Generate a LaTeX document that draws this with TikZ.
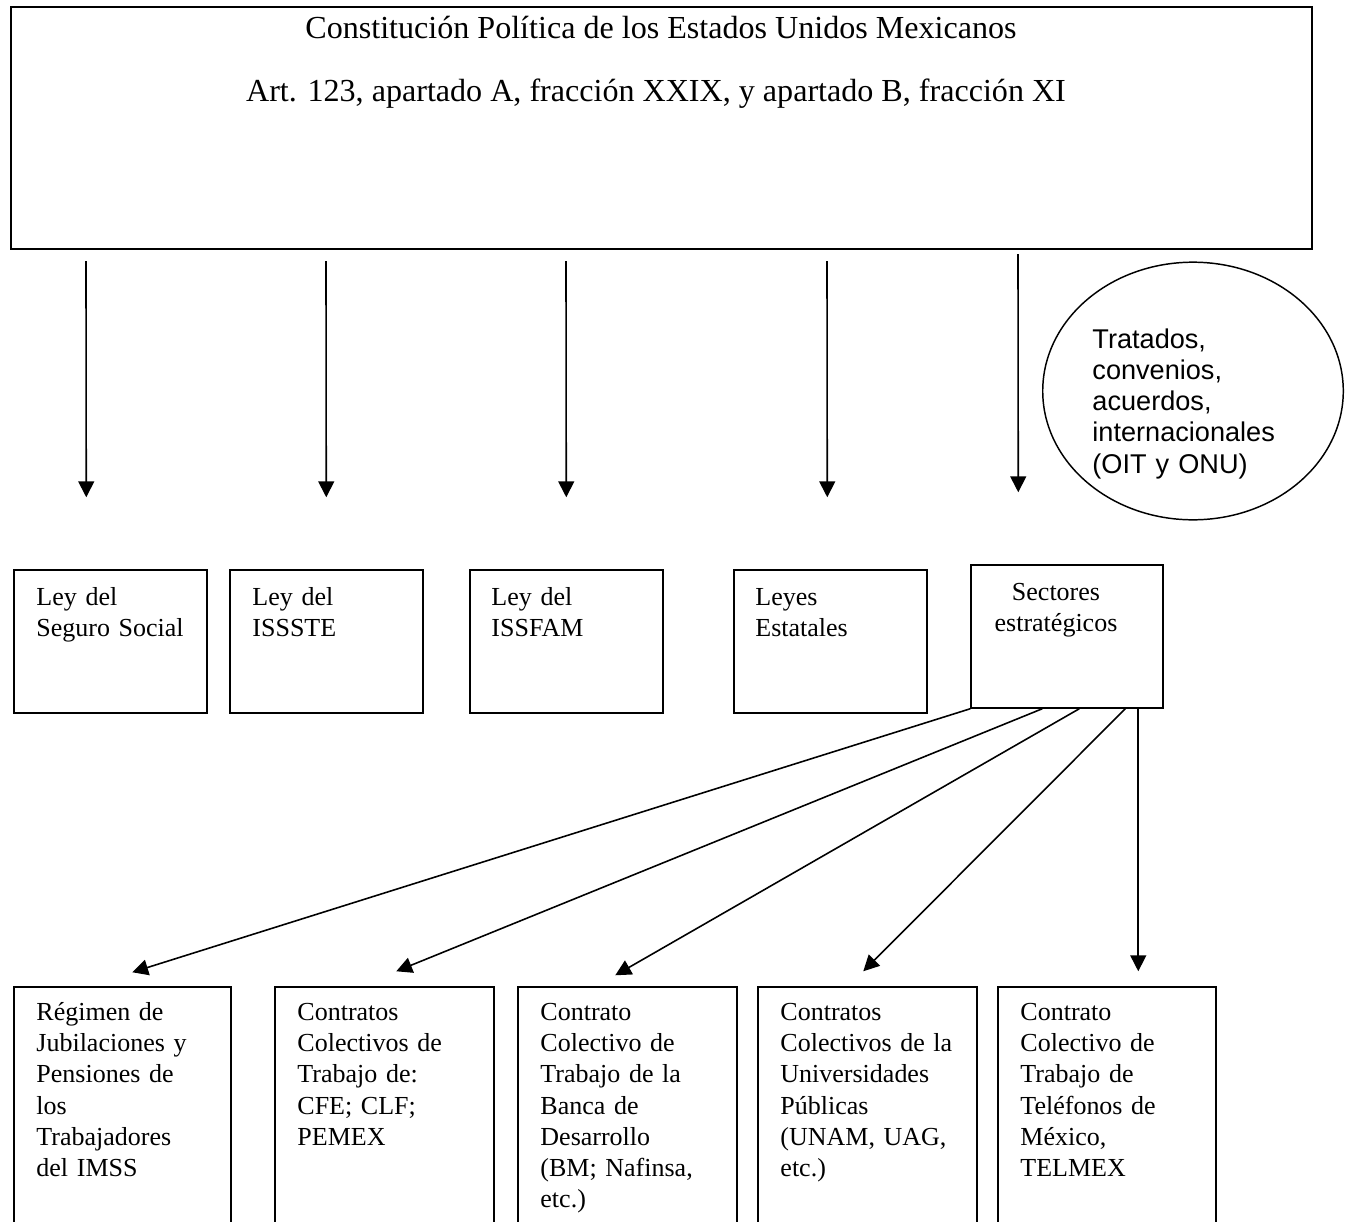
\documentclass[tikz,border=0pt]{standalone}
\usepackage{fontspec}
\setmainfont{Liberation Serif}
\newfontfamily\arialf{Liberation Sans}
\usetikzlibrary{arrows.meta,shapes.geometric,fit,calc}
\begin{document}
\begin{tikzpicture}[x=0.4425pt,y=-0.4425pt,
  arr/.style={-{Triangle[length=7pt,width=7pt]},line width=0.7pt},
  boxst/.style={draw,line width=0.65pt,inner sep=0pt,rectangle},
  topbox/.style={draw,line width=0.9pt,inner sep=0pt,rectangle},
  txt/.style={anchor=north west,inner sep=0pt,align=left,text width=90pt,
    font=\fontsize{11.5pt}{13.8pt}\selectfont},
  ctxt/.style={inner sep=0pt,font=\fontsize{14.2pt}{16pt}\selectfont},
  sectxt/.style={inner sep=0pt,align=center,font=\fontsize{11.5pt}{13.8pt}\selectfont},
  etxt/.style={anchor=north west,inner sep=0pt,align=left,text width=90pt,
    font=\arialf\fontsize{12pt}{13.8pt}\selectfont}]
\useasboundingbox (0,0) rectangle (1364,1221);
\clip (0,0) rectangle (1364,1221);

% top box
\node[topbox,fit={(11,7) (1312,249)}] (top) {};
\node[ctxt,anchor=base] (top1) at (661,38) {Constitución Política de los Estados Unidos Mexicanos};
\node[ctxt,anchor=base] (top2) at (656,101) {Art. 123, apartado A, fracción XXIX, y apartado B, fracción XI};

% ellipse
\node[draw,ellipse,line width=0.65pt,inner sep=0pt,minimum width=133pt,minimum height=114pt] (ell) at (1193,391) {};
\node[etxt] (ellt) at (1092,326) {\strut Tratados,\\convenios,\\acuerdos,\\internacionales\\(OIT y ONU)};

% middle boxes
\node[boxst,fit={(14,570) (207,713)}] (b1) {};
\node[boxst,fit={(230,570) (423,713)}] (b2) {};
\node[boxst,fit={(470,570) (663,713)}] (b3) {};
\node[boxst,fit={(734,570) (927,713)}] (b4) {};
\node[boxst,fit={(971,565) (1163,708)}] (b5) {};
\node[txt] (b1t) at (36,583.2) {\strut Ley del\\Seguro Social};
\node[txt] (b2t) at (252,583.2) {\strut Ley del\\ISSSTE};
\node[txt] (b3t) at (491,583.2) {\strut Ley del\\ISSFAM};
\node[txt] (b4t) at (755,583.2) {\strut Leyes\\Estatales};
\node[sectxt,anchor=north] (b5t) at (1056,578.2) {\strut Sectores\\estratégicos};

% bottom boxes
\node[boxst,fit={(14,987) (231,1240)}] (c1) {};
\node[boxst,fit={(275,987) (494,1240)}] (c2) {};
\node[boxst,fit={(518,987) (737,1240)}] (c3) {};
\node[boxst,fit={(758,987) (977,1240)}] (c4) {};
\node[boxst,fit={(998,987) (1216,1240)}] (c5) {};
\node[txt] (c1t) at (36,998.2) {\strut Régimen de\\Jubilaciones y\\Pensiones de\\los\\Trabajadores\\del IMSS};
\node[txt] (c2t) at (297,998.2) {\strut Contratos\\Colectivos de\\Trabajo de:\\CFE; CLF;\\PEMEX};
\node[txt] (c3t) at (540,998.2) {\strut Contrato\\Colectivo de\\Trabajo de la\\Banca de\\Desarrollo\\(BM; Nafinsa,\\etc.)};
\node[txt] (c4t) at (780,998.2) {\strut Contratos\\Colectivos de la\\Universidades\\Públicas\\(UNAM, UAG,\\etc.)};
\node[txt] (c5t) at (1020,998.2) {\strut Contrato\\Colectivo de\\Trabajo de\\Teléfonos de\\México,\\TELMEX};

% vertical arrows
\draw[arr] ($(top.south west)+(76,11)$) -- ($(b1.north west)+(73,-72)$);
\draw[arr] ($(top.south west)+(316,11)$) -- ($(b2.north west)+(97,-72)$);
\draw[arr] ($(top.south west)+(556,11)$) -- ($(b3.north west)+(97,-72)$);
\draw[arr] ($(top.south west)+(817,11)$) -- ($(b4.north west)+(94,-72)$);
\draw[arr] ($(top.south west)+(1008,4)$) -- ($(b5.north west)+(48,-72)$);

% diagonal arrows
\draw[arr] (b5.south west) -- ($(c1.north west)+(119,-14)$);
\draw[arr] ($(b5.south west)+(72,0)$) -- ($(c2.north west)+(122,-15)$);
\draw[arr] ($(b5.south west)+(109,0)$) -- ($(c3.north west)+(98,-11)$);
\draw[arr] ($(b5.south west)+(155,0)$) -- ($(c4.north west)+(106,-15)$);
\draw[arr] ($(b5.south west)+(168,0)$) -- ($(c5.north west)+(141,-15)$);
\end{tikzpicture}
\end{document}
